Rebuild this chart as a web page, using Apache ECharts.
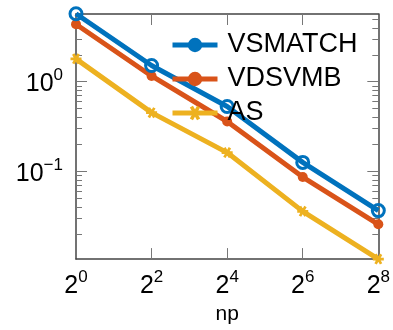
<!DOCTYPE html>
<html>
<head>
<meta charset="utf-8">
<script src="https://cdn.jsdelivr.net/npm/echarts@6/dist/echarts.min.js"></script>
<style>html,body{margin:0;padding:0;background:#fff;}#c{width:393px;height:330px;}</style>
</head>
<body>
<div id="c"></div>
<script>
// ---- data ----
const np = [1, 4, 16, 64, 256];
const vsmatch = [5.73, 1.52, 0.53, 0.126, 0.0365];
const vdsvmb = [4.38, 1.16, 0.36, 0.0865, 0.0257];
const as = [1.80, 0.452, 0.162, 0.0358, 0.0105];
const seriesNames = ['VSMATCH', 'VDSVMB', 'AS'];
const xTickValues = [1, 4, 16, 64, 256];
const xTickLabels = ['0', '2', '4', '6', '8'];
const yTickValues = [0.1, 1];
const yTickLabels = ['−1', '0'];
const yMinorTicks = [0.02,0.03,0.04,0.05,0.06,0.07,0.08,0.09,0.2,0.3,0.4,0.5,0.6,0.7,0.8,0.9,2,3,4,5];
const xAxisTitle = 'np';

const FONT = 'Liberation Sans';
const colors = ['#0072BD', '#D95319', '#EDB120'];
const asterisk = 'path://M0 7.5L20 7.5L20 12.5L0 12.5Z M7.165 0.09L17.165 17.41L12.835 19.91L2.835 2.59Z M17.165 2.59L7.165 19.91L2.835 17.41L12.835 0.09Z';

const rich = {
  b: {fontFamily: FONT, fontSize: 25, color: '#000', lineHeight: 30, verticalAlign: 'bottom'},
  s: {fontFamily: FONT, fontSize: 17, color: '#000', lineHeight: 30, verticalAlign: 'top', padding: [0,0,12,0]}
};

function near(a, b) { return Math.abs(Math.log(a) - Math.log(b)) < 1e-6; }

const xMin = 1, xMax = 256, yMin = 0.0105, yMax = 5.7;

const chart = echarts.init(document.getElementById('c'), null, {renderer: 'canvas'});
const frameLine = {show: true, onZero: false, lineStyle: {color: '#444', width: 1.5}};
const tickStyle = {color: '#777', width: 1};

chart.setOption({
  animation: false,
  grid: {left: 76, right: 13, top: 14, bottom: 66, containLabel: false},
  legend: {
    orient: 'vertical', left: 165, top: 25,
    itemWidth: 45, itemHeight: 18, itemGap: 4,
    data: [
      {name: seriesNames[0], itemStyle: {color: colors[0], borderWidth: 0}},
      {name: seriesNames[1]},
      {name: seriesNames[2]}
    ],
    lineStyle: {width: 5},
    textStyle: {fontFamily: FONT, fontSize: 27, color: '#000', lineHeight: 30, padding: [0,0,0,5]},
    backgroundColor: 'transparent'
  },
  xAxis: [
    {
      type: 'log', logBase: 2, min: xMin, max: xMax, position: 'bottom',
      name: xAxisTitle, nameLocation: 'middle', nameGap: 44,
      nameTextStyle: {fontFamily: FONT, fontSize: 21, color: '#000'},
      axisLine: frameLine,
      axisTick: {show: true, inside: true, length: 11, lineStyle: tickStyle, customValues: xTickValues.slice(1, -1)},
      axisLabel: {
        show: true, margin: 10, customValues: xTickValues, rich: rich,
        formatter: function (v) {
          const i = xTickValues.findIndex(t => near(t, v));
          return i < 0 ? '' : '{b|2}{s|' + xTickLabels[i] + '}';
        }
      },
      splitLine: {show: false}, minorTick: {show: false}
    },
    {
      type: 'log', logBase: 2, min: xMin, max: xMax, position: 'top',
      axisLine: frameLine,
      axisTick: {show: true, inside: true, length: 11, lineStyle: tickStyle, customValues: xTickValues.slice(1, -1)},
      axisLabel: {show: false}, splitLine: {show: false}
    }
  ],
  yAxis: [
    {
      type: 'log', logBase: 10, min: yMin, max: yMax, position: 'left',
      axisLine: frameLine,
      axisTick: {show: true, inside: true, length: 6, lineStyle: tickStyle, customValues: yMinorTicks},
      axisLabel: {
        show: true, margin: 13, customValues: yTickValues, rich: rich,
        formatter: function (v) {
          const i = yTickValues.findIndex(t => near(t, v));
          return i < 0 ? '' : '{b|10}{s|' + yTickLabels[i] + '}';
        }
      },
      splitLine: {show: false}
    },
    {
      type: 'log', logBase: 10, min: yMin, max: yMax, position: 'right',
      axisLine: frameLine,
      axisTick: {show: true, inside: true, length: 6, lineStyle: tickStyle, customValues: yMinorTicks},
      axisLabel: {show: false}, splitLine: {show: false}
    },
    {
      type: 'log', logBase: 10, min: yMin, max: yMax, position: 'left',
      axisLine: {show: false},
      axisTick: {show: true, inside: true, length: 11, lineStyle: tickStyle, customValues: yTickValues},
      axisLabel: {show: false}, splitLine: {show: false}
    },
    {
      type: 'log', logBase: 10, min: yMin, max: yMax, position: 'right',
      axisLine: {show: false},
      axisTick: {show: true, inside: true, length: 11, lineStyle: tickStyle, customValues: yTickValues},
      axisLabel: {show: false}, splitLine: {show: false}
    }
  ],
  series: [
    {
      name: seriesNames[0], type: 'line', clip: false, z: 3,
      data: np.map((x, i) => [x, vsmatch[i]]),
      symbol: 'circle', symbolSize: 12,
      lineStyle: {color: colors[0], width: 5},
      itemStyle: {color: 'rgba(255,255,255,0)', borderColor: colors[0], borderWidth: 3}
    },
    {
      name: seriesNames[1], type: 'line', clip: false, z: 2,
      data: np.map((x, i) => [x, vdsvmb[i]]),
      symbol: 'circle', symbolSize: 10,
      lineStyle: {color: colors[1], width: 5},
      itemStyle: {color: colors[1]}
    },
    {
      name: seriesNames[2], type: 'line', clip: false, z: 1,
      data: np.map((x, i) => [x, as[i]]),
      symbol: asterisk, symbolSize: 11,
      lineStyle: {color: colors[2], width: 5},
      itemStyle: {color: colors[2]}
    }
  ]
});
</script>
</body>
</html>
